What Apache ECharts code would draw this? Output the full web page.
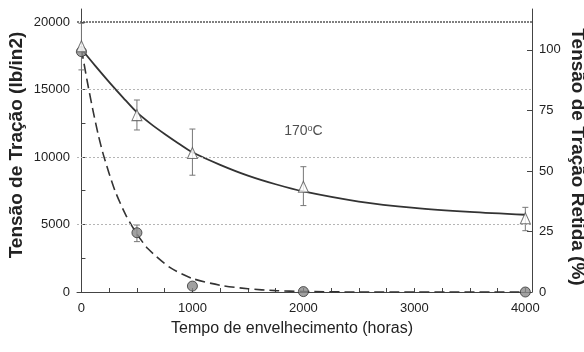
<!DOCTYPE html>
<html>
<head>
<meta charset="utf-8">
<script src="https://cdn.jsdelivr.net/npm/echarts@6/dist/echarts.min.js"></script>
<style>html,body{margin:0;padding:0;background:#fff}#c{width:584px;height:352px}</style>
</head>
<body>
<div id="c"></div>
<script>
// ---- data ----
const hours = [0, 500, 1000, 2000, 4000];
const triMean = [18200, 13100, 10300, 7800, 5460];
const triLow  = [16450, 12000, 8650, 6400, 4540];
const triHigh = [19900, 14220, 12070, 9280, 6270];
const circMean = [17800, 4390, 440, 30, 0];
const circLow  = [null, 3730, null, null, null];
const circHigh = [null, 4960, null, null, null];

const solidX = [0, 125, 250, 375, 500, 625, 750, 875, 1000, 1250, 1500, 1750, 2000, 2500, 3000, 3500, 4000];
const solidY = [18000, 16750, 15550, 14400, 13300, 12450, 11700, 11000, 10350, 9420, 8620, 7980, 7450, 6700, 6230, 5930, 5720];
const dashX = [0, 50, 100, 150, 200, 300, 400, 500, 600, 800, 1000, 1250, 1500, 1750, 2000, 2500, 4000];
const dashY = [18000, 15700, 13600, 11700, 10100, 7550, 5700, 4300, 3200, 1800, 1000, 500, 240, 100, 40, 0, 0];

const xLabels = [0, 1000, 2000, 3000, 4000];
const xTicks = [0, 250, 500, 750, 1000, 1250, 1500, 1750, 2000, 2250, 2500, 2750, 3000, 3250, 3500, 3750, 4000];
const yLabels = [0, 5000, 10000, 15000, 20000];
const yTicks = [0, 2500, 5000, 7500, 10000, 12500, 15000, 17500, 20000];
const y2Labels = [0, 25, 50, 75, 100];
const gridLines = [5000, 10000, 15000];
const topLine = 20000;
const annot = { x: 2000, y: 11900, text: '170{s|o}C' };

const FONT = '"Liberation Sans", Arial, sans-serif';
const axisColor = '#444';
const plain = v => String(v);

function errItem(params, api) {
  const x = api.value(0), lo = api.value(1), hi = api.value(2);
  if (lo == null || hi == null || isNaN(lo) || isNaN(hi)) return null;
  const a = api.coord([x, lo]), b = api.coord([x, hi]);
  const w = 3;
  const st = { stroke: '#777', lineWidth: 1 };
  return { type: 'group', children: [
    { type: 'line', shape: { x1: a[0], y1: a[1], x2: b[0], y2: b[1] }, style: st },
    { type: 'line', shape: { x1: a[0] - w, y1: a[1], x2: a[0] + w, y2: a[1] }, style: st },
    { type: 'line', shape: { x1: b[0] - w, y1: b[1], x2: b[0] + w, y2: b[1] }, style: st }
  ]};
}

const chart = echarts.init(document.getElementById('c'), null, { renderer: 'canvas' });
chart.setOption({
  animation: false,
  backgroundColor: '#fff',
  textStyle: { fontFamily: FONT },
  grid: { left: 77, right: 52, top: 9, bottom: 60, containLabel: false, outerBoundsMode: 'none' },
  xAxis: {
    type: 'value', min: -40, max: 4060,
    name: 'Tempo de envelhecimento (horas)', nameLocation: 'middle', nameGap: 29, nameMoveOverlap: false,
    nameTextStyle: { fontSize: 16, color: '#222', fontFamily: FONT, padding: [0, 25, 0, 0] },
    axisLine: { show: true, onZero: false, lineStyle: { color: axisColor, width: 1 } },
    axisTick: { show: true, inside: true, length: 4, customValues: xTicks, lineStyle: { color: axisColor } },
    axisLabel: { customValues: xLabels, formatter: plain, fontSize: 13, color: '#222', margin: 10, fontFamily: FONT },
    splitLine: { show: false }
  },
  yAxis: [{
    type: 'value', min: 0, max: 20960, position: 'left',
    name: 'Tensão de Tração (lb/in2)', nameLocation: 'middle', nameGap: 51, nameMoveOverlap: false,
    nameTextStyle: { fontSize: 19, fontWeight: 'bold', color: '#222', fontFamily: FONT, padding: [0, 0, 0, 11] },
    axisLine: { show: true, lineStyle: { color: axisColor, width: 1 } },
    axisTick: { show: true, inside: true, length: 4, customValues: yTicks, lineStyle: { color: axisColor } },
    axisLabel: { customValues: yLabels, formatter: plain, fontSize: 13, color: '#222', margin: 7, fontFamily: FONT },
    splitLine: { show: false }
  }, {
    type: 'value', min: 0, max: 116.9, position: 'right',
    name: 'Tensão de Tração Retida (%)', nameLocation: 'middle', nameGap: 36, nameRotate: -90, nameMoveOverlap: false,
    nameTextStyle: { fontSize: 19, fontWeight: 'bold', color: '#222', fontFamily: FONT, padding: [0, 0, 0, 13] },
    axisLine: { show: true, lineStyle: { color: axisColor, width: 1 } },
    axisTick: { show: true, inside: true, length: 5, customValues: y2Labels, lineStyle: { color: axisColor } },
    axisLabel: { customValues: y2Labels, formatter: plain, fontSize: 13, color: '#222', margin: 7, fontFamily: FONT },
    splitLine: { show: false }
  }],
  series: [
    {
      type: 'line', name: 'grid', data: [], silent: true,
      markLine: {
        symbol: 'none', silent: true, label: { show: false },
        data: gridLines.map(v => ({ yAxis: v, lineStyle: { color: '#b5b5b5', type: [2, 2], width: 1 } }))
          .concat([{ yAxis: topLine, lineStyle: { color: '#555', type: [2, 1], width: 1.5 } }])
      }
    },
    {
      type: 'line', name: 'fit solid', data: solidX.map((x, i) => [x, solidY[i]]),
      smooth: 0.3, showSymbol: false, silent: true,
      lineStyle: { color: '#333', width: 1.8 }, z: 3
    },
    {
      type: 'line', name: 'fit dashed', data: dashX.map((x, i) => [x, dashY[i]]),
      smooth: 0.25, showSymbol: false, silent: true,
      lineStyle: { color: '#333', width: 1.6, type: [10, 5] }, z: 3
    },
    {
      type: 'custom', name: 'tri err', renderItem: errItem, z: 4,
      data: hours.map((h, i) => [h, triLow[i], triHigh[i]])
    },
    {
      type: 'custom', name: 'circ err', renderItem: errItem, z: 4,
      data: hours.map((h, i) => [h, circLow[i], circHigh[i]])
    },
    {
      type: 'scatter', name: 'circles', data: hours.map((h, i) => [h, circMean[i]]),
      symbol: 'circle', symbolSize: 10, z: 5,
      itemStyle: { color: '#8a8a8a', borderColor: '#333', borderWidth: 1 }
    },
    {
      type: 'scatter', name: 'triangles', data: hours.map((h, i) => [h, triMean[i]]),
      symbol: 'triangle', symbolSize: [10, 11], z: 6,
      itemStyle: { color: '#fff', borderColor: '#555', borderWidth: 1 }
    },
    {
      type: 'scatter', name: 'annot', data: [[annot.x, annot.y]], symbolSize: 0, silent: true, z: 7,
      label: {
        show: true, position: 'inside', formatter: annot.text,
        fontSize: 14, color: '#222', fontFamily: FONT,
        rich: { s: { fontSize: 9, lineHeight: 9, verticalAlign: 'top', padding: [0, 0, 9, 0], color: '#222' } }
      }
    }
  ]
});
</script>
</body>
</html>
